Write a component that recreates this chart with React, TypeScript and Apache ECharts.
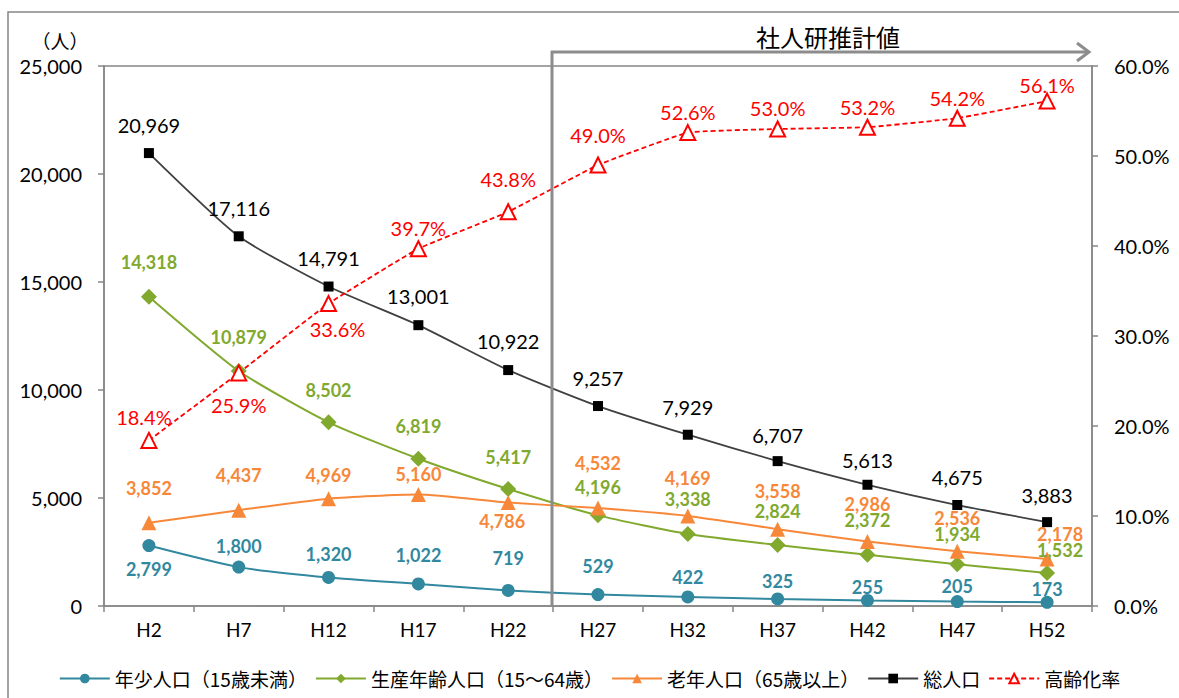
import React, { useEffect, useRef } from "react";
import * as echarts from "echarts";

const categories = ["H2", "H7", "H12", "H17", "H22", "H27", "H32", "H37", "H42", "H47", "H52"];
const youth = [2799, 1800, 1320, 1022, 719, 529, 422, 325, 255, 205, 173];
const working = [14318, 10879, 8502, 6819, 5417, 4196, 3338, 2824, 2372, 1934, 1532];
const elderly = [3852, 4437, 4969, 5160, 4786, 4532, 4169, 3558, 2986, 2536, 2178];
const total = [20969, 17116, 14791, 13001, 10922, 9257, 7929, 6707, 5613, 4675, 3883];
const agingRate = [18.4, 25.9, 33.6, 39.7, 43.8, 49.0, 52.6, 53.0, 53.2, 54.2, 56.1];

const seriesNames = ["年少人口（15歳未満）", "生産年齢人口（15〜64歳）", "老年人口（65歳以上）", "総人口", "高齢化率"];
const projectionTitle = "社人研推計値";
const unitLabel = "（人）";

// label placement (styling only): [dx, dy] of label centre from the marker
const youthLabelOffset = [[0, 23], [0, -21], [0, -23], [0, -29], [0, -32], [0, -29], [0, -20], [0, -18], [0, -13], [0, -16], [0, -13]];
const workingLabelOffset = [[0, -35], [0, -34], [0, -32], [0, -33], [0, -32], [0, -28], [0, -35], [0, -34], [0, -35], [0, -30], [13, -23]];
const elderlyLabelOffset = [[0, -35], [0, -35], [0, -24], [0, -21], [-6, 18], [0, -45], [0, -38], [0, -38], [0, -38], [0, -33], [13, -25]];
const totalLabelOffset = [[0, -28], [0, -28], [0, -29], [0, -29], [0, -29], [0, -28], [0, -28], [0, -26], [0, -25], [0, -28], [0, -27]];
const rateLabelOffset = [[-5, -23], [0, 32], [9, 25], [0, -21], [0, -33], [0, -30], [0, -21], [0, -21], [0, -20], [0, -20], [0, -16]];

const NUM_FONT = "Lato, 'Noto Sans CJK JP', sans-serif";
const JP_FONT = "'Noto Sans CJK JP', sans-serif";
const AXIS_GRAY = "#868686";

const fmt = (v: number) => v.toLocaleString("en-US");

function buildData(values: number[], offsets: number[][], color: string, bold: boolean, formatter: (v: number) => string) {
  return values.map((v, i) => ({
    value: v,
    label: {
      show: true,
      position: "inside",
      offset: offsets[i],
      color,
      fontFamily: NUM_FONT,
      fontSize: bold ? 18 : 20,
      fontWeight: bold ? "bold" : "normal",
      textBorderWidth: 0,
      formatter: () => formatter(v),
    },
  }));
}

export default function App() {
  const ref = useRef<HTMLDivElement>(null);
  useEffect(() => {
    if (!ref.current) return;
    const chart = echarts.init(ref.current, null, { renderer: "svg" });
    const teal = "#31889f";
    const green = "#80a92e";
    const orange = "#f7883a";
    const black = "#000000";
    const red = "#ff0000";
    chart.setOption({
      animation: false,
      backgroundColor: "#ffffff",
      grid: {
        left: 104,
        right: 87,
        top: 66,
        bottom: 92,
        show: true,
        borderColor: AXIS_GRAY,
        borderWidth: 1.5,
        backgroundColor: "transparent",
      },
      legend: {
        data: seriesNames,
        top: 664,
        left: "center",
        itemWidth: 50,
        itemHeight: 12,
        itemGap: 8,
        textStyle: { fontFamily: JP_FONT, fontSize: 19, color: "#000" },
      },
      xAxis: {
        type: "category",
        data: categories,
        boundaryGap: true,
        axisLine: { lineStyle: { color: AXIS_GRAY, width: 1.5 } },
        axisTick: { show: true, length: 6, lineStyle: { color: AXIS_GRAY, width: 1.5 } },
        axisLabel: { color: "#000", fontFamily: NUM_FONT, fontSize: 19, margin: 14 },
        splitLine: { show: false },
      },
      yAxis: [
        {
          type: "value",
          min: 0,
          max: 25000,
          interval: 5000,
          axisLine: { show: true, lineStyle: { color: AXIS_GRAY, width: 1.5 } },
          axisTick: { show: true, length: 6, lineStyle: { color: AXIS_GRAY, width: 1.5 } },
          axisLabel: { color: "#000", fontFamily: NUM_FONT, fontSize: 20, margin: 22, formatter: (v: number) => fmt(v) },
          splitLine: { show: false },
        },
        {
          type: "value",
          min: 0,
          max: 60,
          interval: 10,
          position: "right",
          axisLine: { show: true, lineStyle: { color: AXIS_GRAY, width: 1.5 } },
          axisTick: { show: true, length: 6, lineStyle: { color: AXIS_GRAY, width: 1.5 } },
          axisLabel: { color: "#000", fontFamily: NUM_FONT, fontSize: 20, margin: 22, formatter: (v: number) => `${v.toFixed(1)}%` },
          splitLine: { show: false },
        },
      ],
      series: [
        {
          name: seriesNames[0],
          type: "line",
          smooth: 0.2,
          symbol: "circle",
          symbolSize: 13,
          lineStyle: { color: teal, width: 2 },
          itemStyle: { color: teal },
          data: buildData(youth, youthLabelOffset, teal, true, fmt),
          z: 3,
        },
        {
          name: seriesNames[1],
          type: "line",
          smooth: 0.2,
          symbol: "diamond",
          symbolSize: 16,
          lineStyle: { color: green, width: 2 },
          itemStyle: { color: green },
          data: buildData(working, workingLabelOffset, green, true, fmt),
          z: 3,
        },
        {
          name: seriesNames[2],
          type: "line",
          smooth: 0.2,
          symbol: "triangle",
          symbolSize: 15,
          lineStyle: { color: orange, width: 2 },
          itemStyle: { color: orange },
          data: buildData(elderly, elderlyLabelOffset, orange, true, fmt),
          z: 3,
        },
        {
          name: seriesNames[3],
          type: "line",
          smooth: 0.2,
          symbol: "rect",
          symbolSize: 10,
          lineStyle: { color: "#404040", width: 1.8 },
          itemStyle: { color: black },
          data: buildData(total, totalLabelOffset, black, false, fmt),
          z: 4,
        },
        {
          name: seriesNames[4],
          type: "line",
          yAxisIndex: 1,
          smooth: 0.1,
          symbol: "triangle",
          symbolSize: 15,
          lineStyle: { color: red, width: 1.8, type: [5, 3] },
          itemStyle: { color: "#ffffff", borderColor: red, borderWidth: 2 },
          data: buildData(agingRate, rateLabelOffset, red, false, (v) => `${v.toFixed(1)}%`),
          z: 5,
        },
      ],
      graphic: [
        {
          type: "rect",
          silent: true,
          z: 100,
          shape: { x: 8, y: 12, width: 1400, height: 900 },
          style: { fill: "none", stroke: AXIS_GRAY, lineWidth: 1.5 },
        },
        {
          type: "line",
          silent: true,
          z: 100,
          shape: { x1: 552, y1: 51, x2: 552, y2: 606 },
          style: { stroke: "#8c8c8c", lineWidth: 3 },
        },
        {
          type: "line",
          silent: true,
          z: 100,
          shape: { x1: 551, y1: 52, x2: 1088, y2: 52 },
          style: { stroke: "#8c8c8c", lineWidth: 3 },
        },
        {
          type: "polyline",
          silent: true,
          z: 100,
          shape: { points: [[1077, 43], [1089, 52], [1077, 61]] },
          style: { stroke: "#8c8c8c", lineWidth: 3, fill: "none" },
        },
        {
          type: "text",
          silent: true,
          z: 100,
          x: 828,
          y: 36,
          style: {
            text: projectionTitle,
            fill: "#000",
            font: `normal 24px ${JP_FONT}`,
            align: "center",
            verticalAlign: "middle",
          },
        },
        {
          type: "text",
          silent: true,
          z: 100,
          x: 60,
          y: 40,
          style: {
            text: unitLabel,
            fill: "#000",
            font: `19px ${JP_FONT}`,
            align: "center",
            verticalAlign: "middle",
          },
        },
      ],
    });
    return () => chart.dispose();
  }, []);
  return <div ref={ref} style={{ position: "absolute", left: 0, top: 0, width: 1179, height: 698 }} />;
}
